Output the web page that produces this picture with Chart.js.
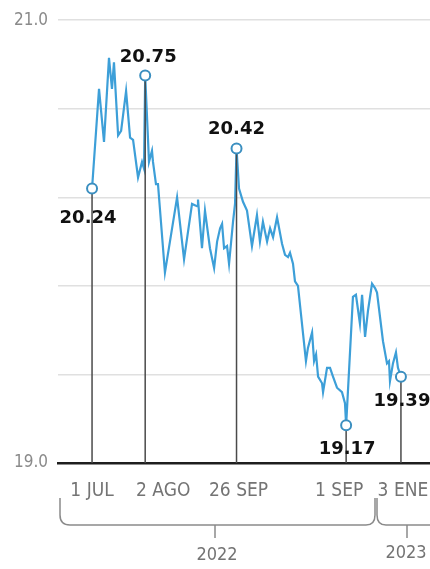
<!DOCTYPE html>
<html>
<head>
<meta charset="utf-8">
<script src="https://cdn.jsdelivr.net/npm/chart.js@4.4.0/dist/chart.umd.min.js"></script>
<style>
  html, body { margin: 0; padding: 0; background: #fff; overflow: hidden; }
  #wrap { position: relative; width: 430px; height: 569px; }
  #chart { display: block; }
</style>
</head>
<body>
<div id="wrap"><canvas id="chart"></canvas></div>
<script>
/* Days counted from 1 Jul 2022, peso per dollar */
const DAYS = [0, 4.2, 7.2, 10.2, 12.0, 13.2, 15.7, 17.5, 20.5, 22.9, 24.7, 27.7, 30.1, 31.3, 32,
  34.3, 36.1, 36.7, 38.5, 39.7, 43.9, 51.2, 55.4, 60.2, 63.2, 63.8, 66.2, 68.0, 71.0, 73.5,
  75.3, 77.1, 78.3, 79.5, 81.3, 82.5, 84.9, 86.1, 87, 88.5, 90.9, 93.3, 96.3, 99.3, 101.1,
  102.9, 105.4, 107.2, 109.0, 111.4, 114.4, 116.2, 118.0, 119.2, 121.0, 122.2, 124.0, 128.8,
  130.0, 132.5, 133.7, 134.9, 136.1, 138.5, 139.1, 141.5, 143.3, 145.1, 147.5, 150.5, 152.3,
  153, 157.1, 158.9, 161.3, 162.6, 164.4, 166.2, 168.6, 170.4, 171.6, 175.2, 177.6, 178.8,
  179.4, 181.2, 183.0, 184.2, 186];
const RATES = [20.24, 20.69, 20.45, 20.83, 20.69, 20.81, 20.48, 20.50, 20.68, 20.47, 20.46, 20.29,
  20.36, 20.33, 20.75, 20.36, 20.41, 20.36, 20.26, 20.26, 19.86, 20.20, 19.92, 20.17, 20.16,
  20.19, 19.97, 20.14, 19.97, 19.88, 20.00, 20.06, 20.08, 19.97, 19.98, 19.90, 20.09, 20.17,
  20.42, 20.24, 20.18, 20.14, 19.98, 20.12, 20.00, 20.09, 20.00, 20.06, 20.02, 20.11, 19.99,
  19.94, 19.93, 19.95, 19.90, 19.82, 19.80, 19.46, 19.52, 19.59, 19.46, 19.49, 19.39, 19.36,
  19.32, 19.43, 19.43, 19.39, 19.34, 19.32, 19.27, 19.17, 19.75, 19.76, 19.63, 19.76, 19.57,
  19.69, 19.81, 19.79, 19.77, 19.55, 19.45, 19.46, 19.37, 19.45, 19.50, 19.43, 19.39];

/* Highlighted points */
const MARK_DAYS = [0, 32, 87, 153, 186];
const MARK_RATES = [20.24, 20.75, 20.42, 19.17, 19.39];
const MARK_LABELS = ['20.24', '20.75', '20.42', '19.17', '19.39'];

const DATE_LABELS = ['1 JUL', '2 AGO', '26 SEP', '1 SEP', '3 ENE'];
const YEAR_LABELS = ['2022', '2023'];
const Y_GRID = [19.0, 19.4, 19.8, 20.2, 20.6, 21.0];
const Y_LABELS = { 19: '19.0', 21: '21.0' };

const LINE_COLOR = '#3d9fd8';
const MARK_COLOR = '#3b8fc0';
const THIN_FONT = "'Liberation Sans Narrow', 'DejaVu Sans Condensed', sans-serif";

/* Draw guides, value labels, dates and year braces */
const annotations = {
  id: 'annotations',
  afterDatasetDraw(chart, args) {
    if (args.index !== 1) return; // after the rate line, before the markers
    const { ctx, chartArea, scales: { x, y } } = chart;
    ctx.save();
    ctx.strokeStyle = '#4a4a4a';
    ctx.lineWidth = 1.5;
    MARK_DAYS.forEach((d, i) => {
      const px = x.getPixelForValue(d);
      ctx.beginPath();
      ctx.moveTo(px, y.getPixelForValue(MARK_RATES[i]));
      ctx.lineTo(px, chartArea.bottom);
      ctx.stroke();
    });
    ctx.restore();
  },
  afterDraw(chart) {
    const { ctx, chartArea, scales: { x, y } } = chart;
    ctx.save();

    // bold value labels
    const valueOffsets = [[-4, 30], [3, -18], [0, -19], [1, 24], [1, 25]];
    ctx.font = "bold 18px 'DejaVu Sans', sans-serif";
    ctx.fillStyle = '#111';
    ctx.textAlign = 'center';
    ctx.textBaseline = 'middle';
    MARK_LABELS.forEach((t, i) => {
      ctx.fillText(t,
        x.getPixelForValue(MARK_DAYS[i]) + valueOffsets[i][0],
        y.getPixelForValue(MARK_RATES[i]) + valueOffsets[i][1]);
    });

    // date labels under the axis
    const dateShift = [0, 18, 2, -7, 2];
    ctx.font = '19px ' + THIN_FONT;
    ctx.fillStyle = '#747474';
    DATE_LABELS.forEach((t, i) => {
      ctx.fillText(t, x.getPixelForValue(MARK_DAYS[i]) + dateShift[i], chartArea.bottom + 28);
    });

    // year braces
    const top = 498, base = 525;
    ctx.strokeStyle = '#8a8a8a';
    ctx.lineWidth = 1.5;
    ctx.beginPath();
    ctx.moveTo(60, top);
    ctx.lineTo(60, base - 10);
    ctx.quadraticCurveTo(60, base, 70, base);
    ctx.lineTo(366, base);
    ctx.quadraticCurveTo(375, base, 375, base - 10);
    ctx.lineTo(375, top);
    ctx.moveTo(215, base);
    ctx.lineTo(215, base + 13);
    ctx.moveTo(377, top);
    ctx.lineTo(377, base - 10);
    ctx.quadraticCurveTo(377, base, 386, base);
    ctx.lineTo(440, base);
    ctx.moveTo(407, base);
    ctx.lineTo(407, base + 13);
    ctx.stroke();

    ctx.font = '18px ' + THIN_FONT;
    ctx.fillStyle = '#747474';
    ctx.fillText(YEAR_LABELS[0], 217, 555);
    ctx.fillText(YEAR_LABELS[1], 406, 553);
    ctx.restore();
  }
};

const ctx = document.getElementById('chart');
new Chart(ctx, {
  type: 'line',
  data: {
    datasets: [
      {
        label: 'marks',
        data: MARK_DAYS.map((d, i) => ({ x: d, y: MARK_RATES[i] })),
        showLine: false,
        pointRadius: 5,
        pointBackgroundColor: '#fff',
        pointBorderColor: MARK_COLOR,
        pointBorderWidth: 2,
        order: 0,
      },
      {
        label: 'rate',
        data: DAYS.map((d, i) => ({ x: d, y: RATES[i] })),
        borderColor: LINE_COLOR,
        borderWidth: 2.2,
        pointRadius: 0,
        tension: 0,
        order: 1,
      }
    ]
  },
  options: {
    responsive: true,
    maintainAspectRatio: false,
    animation: false,
    layout: { autoPadding: false, padding: { top: 18, left: 0, right: 0, bottom: 0 } },
    plugins: {
      legend: { display: false },
      tooltip: { enabled: false },
    },
    scales: {
      x: {
        type: 'linear',
        min: -20.5,
        max: 203.5,
        grid: { display: false },
        ticks: { display: false },
        border: { display: true, color: '#1e1e1e', width: 2.5 },
        afterFit(axis) {
          axis.height = 106;
          axis.paddingLeft = 0;
          axis.paddingRight = 0;
        },
      },
      y: {
        min: 19,
        max: 21,
        afterBuildTicks(axis) {
          axis.ticks = Y_GRID.map(v => ({ value: v }));
        },
        afterFit(axis) {
          axis.width = 58;
        },
        grid: {
          drawTicks: false,
          color: c => (c.tick && c.tick.value === 19 ? 'rgba(0,0,0,0)' : '#e0e0e0'),
          lineWidth: 1.5,
        },
        border: { display: false },
        ticks: {
          padding: 10,
          color: '#8a8a8a',
          font: { family: THIN_FONT, size: 17 },
          callback: v => Y_LABELS[v] || '',
        },
      }
    }
  },
  plugins: [annotations]
});
</script>
</body>
</html>
